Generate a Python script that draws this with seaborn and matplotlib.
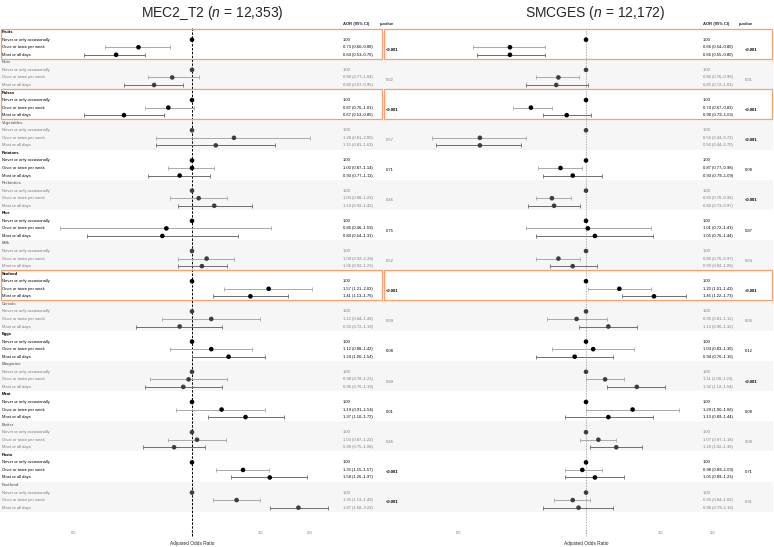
import numpy as np
import pandas as pd
import matplotlib
matplotlib.use("Agg")
import matplotlib.pyplot as plt
import matplotlib.transforms as mtransforms
from matplotlib.patches import Rectangle
import seaborn as sns

# Datos
foods = ["Fruits", "Nuts", "Pulses", "Vegetables", "Potatoes", "Prebiotics", "Rice", "Milk",
         "Seafood", "Cereals", "Eggs", "Margarine", "Meat", "Butter", "Pasta", "Fastfood"]
levels = ["Never or only occasionally", "Once or twice per week", "Most or all days"]
highlight = ["Fruits", "Pulses", "Seafood"]

# MEC2_T2
mec_once = [0.73, 0.89, 0.87, 1.28, 1.00, 1.04, 0.86, 1.09, 1.57, 1.12, 1.12, 0.98, 1.19, 1.03, 1.35, 1.30]
mec_once_lo = [0.60, 0.77, 0.76, 0.81, 0.87, 0.88, 0.46, 0.92, 1.21, 0.84, 0.88, 0.78, 0.91, 0.87, 1.15, 1.13]
mec_once_hi = [0.88, 1.04, 1.01, 2.00, 1.14, 1.23, 1.59, 1.28, 2.03, 1.49, 1.42, 1.23, 1.54, 1.22, 1.57, 1.49]
mec_most = [0.64, 0.80, 0.67, 1.15, 0.93, 1.14, 0.84, 1.06, 1.41, 0.93, 1.24, 0.95, 1.37, 0.90, 1.58, 1.87]
mec_most_lo = [0.53, 0.67, 0.53, 0.81, 0.77, 0.92, 0.54, 0.92, 1.13, 0.72, 1.00, 0.76, 1.10, 0.75, 1.26, 1.58]
mec_most_hi = [0.76, 0.95, 0.85, 1.63, 1.11, 1.42, 1.31, 1.23, 1.76, 1.19, 1.54, 1.19, 1.72, 1.08, 1.97, 2.22]
mec_p = ["<0.001", "0.02", "<0.001", "0.57", "0.71", "0.46", "0.75", "0.52",
         "<0.001", "0.09", "0.08", "0.89", "0.01", "0.46", "<0.001", "<0.001"]

# SMCGES
smc_once = [0.66, 0.86, 0.74, 0.56, 0.87, 0.83, 1.01, 0.86, 1.20, 0.95, 1.04, 1.11, 1.29, 1.07, 0.98, 0.93]
smc_once_lo = [0.54, 0.76, 0.67, 0.43, 0.77, 0.76, 0.72, 0.76, 1.01, 0.81, 0.83, 1.00, 1.00, 0.97, 0.89, 0.84]
smc_once_hi = [0.80, 0.96, 0.83, 0.72, 0.98, 0.92, 1.43, 0.97, 1.43, 1.12, 1.30, 1.23, 1.66, 1.18, 1.09, 1.02]
smc_most = [0.66, 0.85, 0.90, 0.56, 0.93, 0.84, 1.05, 0.93, 1.45, 1.13, 0.94, 1.32, 1.13, 1.18, 1.05, 0.96]
smc_most_lo = [0.55, 0.72, 0.79, 0.44, 0.79, 0.73, 0.76, 0.82, 1.22, 0.96, 0.76, 1.12, 0.89, 1.02, 0.89, 0.79]
smc_most_hi = [0.80, 1.01, 1.03, 0.70, 1.09, 0.97, 1.44, 1.06, 1.73, 1.32, 1.16, 1.54, 1.44, 1.36, 1.23, 1.16]
smc_p = ["<0.001", "0.01", "<0.001", "<0.001", "0.08", "<0.001", "0.87", "0.04",
         "<0.001", "0.06", "0.12", "<0.001", "0.08", "0.08", "0.71", "0.31"]

ticks = [0.5, 1, 1.5, 2.0]
tick_labels = ["0.5", "1", "1.5", "2.0"]

sns.set_theme(style="white")
plt.rcParams['font.family'] = ['Liberation Sans', 'DejaVu Sans']
plt.rcParams['mathtext.fontset'] = 'custom'
plt.rcParams['mathtext.it'] = 'Liberation Sans:italic'
plt.rcParams['mathtext.rm'] = 'Liberation Sans'

W, H = 774, 547
fig = plt.figure(figsize=(W / 100, H / 100), dpi=100)

ORANGE = '#f4a272'
BAND = '#f6f6f6'
ROW0, ROWH = 32, 7.55
R_TOP = -0.55
R_BOT = (527 - ROW0) / ROWH
FS = 3


def add_axes_px(x0, x1, y0, y1):
    return fig.add_axes([x0 / W, 1 - y1 / H, (x1 - x0) / W, (y1 - y0) / H])


def build_table(once, once_lo, once_hi, most, most_lo, most_hi):
    rows = []
    for g, food in enumerate(foods):
        shade = 'white' if g % 2 == 0 else 'gray'
        rows.append([food, levels[0], 1.0, np.nan, np.nan, 4 * g + 1, shade])
        rows.append([food, levels[1], once[g], once_lo[g], once_hi[g], 4 * g + 2, shade])
        rows.append([food, levels[2], most[g], most_lo[g], most_hi[g], 4 * g + 3, shade])
    return pd.DataFrame(rows, columns=['food', 'level', 'aor', 'lo', 'hi', 'row', 'shade'])


def draw_panel(x0, x1, center, scale, title, df, pvals, aor_px, p_px, labels, ref_color, ref_ls):
    ax = add_axes_px(x0, x1, 28, 527)
    ax.set_facecolor('none')
    ax.set_xscale('log')
    ax.set_xlim(np.exp((x0 - center) / scale), np.exp((x1 - center) / scale))
    ax.set_ylim(R_BOT, R_TOP)
    for s in ax.spines.values():
        s.set_visible(False)
    ax.set_yticks([])
    ax.set_xticks(ticks)
    ax.set_xticklabels(tick_labels)
    ax.minorticks_off()
    ax.tick_params(axis='x', length=0, pad=2.9, labelsize=FS, labelcolor='#777777')

    trans_ax = mtransforms.blended_transform_factory(ax.transAxes, ax.transData)
    trans_fig = mtransforms.blended_transform_factory(fig.transFigure, ax.transData)

    # bandas y recuadros
    for g, food in enumerate(foods):
        if g % 2 == 1:
            ax.add_patch(Rectangle((0, 4 * g - 0.45), 1, 4, transform=trans_ax,
                                   facecolor=BAND, edgecolor='none', zorder=0))
    for g, food in enumerate(foods):
        if food in highlight:
            ax.add_patch(Rectangle((0.0015, 4 * g - 0.45), 0.997, 4, transform=trans_ax,
                                   facecolor='none', edgecolor=ORANGE, lw=0.9, zorder=5,
                                   clip_on=False))

    # linea de referencia
    ax.plot([1, 1], [R_TOP, 66.9], color=ref_color, ls=ref_ls, lw=0.7, zorder=1, clip_on=False)

    # intervalos
    for level, col in [(levels[1], '#a9a9a9'), (levels[2], '#6d6d6d')]:
        d = df[df['level'] == level]
        ax.errorbar(d['aor'], d['row'], xerr=[d['aor'] - d['lo'], d['hi'] - d['aor']],
                    fmt='none', ecolor=col, elinewidth=0.7, capsize=1.3, capthick=0.6, zorder=2)

    sns.scatterplot(data=df, x='aor', y='row', hue='shade',
                    palette={'white': '#000000', 'gray': '#3d3d3d'},
                    s=11, edgecolor='none', legend=False, zorder=3, ax=ax)
    ax.set_xlabel('')
    ax.set_ylabel('')

    # textos
    for g, food in enumerate(foods):
        tc = '#000000' if g % 2 == 0 else '#7a7a7a'
        if labels:
            fig.text(2 / W, 4 * g, food, transform=trans_fig, fontsize=FS, fontweight='bold',
                     color=tc, va='center', ha='left')
        d = df[df['food'] == food]
        for _, r in d.iterrows():
            if labels:
                fig.text(2 / W, r['row'], r['level'], transform=trans_fig, fontsize=FS,
                         color=tc, va='center', ha='left')
            if r['level'] == levels[0]:
                s = "1.00"
            else:
                s = f"{r['aor']:.2f} ({r['lo']:.2f}\u2013{r['hi']:.2f})"
            fig.text(aor_px / W, r['row'], s, transform=trans_fig, fontsize=FS,
                     color=tc, va='center', ha='left')
        p = pvals[g]
        bold = p == "<0.001"
        fig.text(p_px / W, 4 * g + 2.3, p, transform=trans_fig, fontsize=FS,
                 color='#000000' if bold else tc, fontweight='bold' if bold else 'normal',
                 va='center', ha='left')

    fig.text(aor_px / W, 1 - 24 / H, "AOR (95% CI)", fontsize=FS, fontweight='bold',
             va='center', ha='left')
    fig.text((p_px - 6) / W, 1 - 24 / H, "p-value", fontsize=FS, fontweight='bold',
             va='center', ha='left')
    fig.text(center / W, 1 - 543 / H, "Adjusted Odds Ratio", fontsize=3.4,
             va='center', ha='center')
    fig.text(title[1] / W, 1 - 13 / H, title[0], fontsize=10, va='center', ha='center')
    return ax


df_mec = build_table(mec_once, mec_once_lo, mec_once_hi, mec_most, mec_most_lo, mec_most_hi)
df_smc = build_table(smc_once, smc_once_lo, smc_once_hi, smc_most, smc_most_lo, smc_most_hi)

draw_panel(0, 383, 192, 170, ("MEC2_T2 ($n$ = 12,353)", 212), df_mec, mec_p,
           343, 386, True, '#000000', (0, (2.5, 1.5)))
draw_panel(383, 773, 586, 183, ("SMCGES ($n$ = 12,172)", 595), df_smc, smc_p,
           703, 745, False, '#b0b0b0', (0, (1.5, 1.2)))

fig.savefig("out.png", dpi=100)
